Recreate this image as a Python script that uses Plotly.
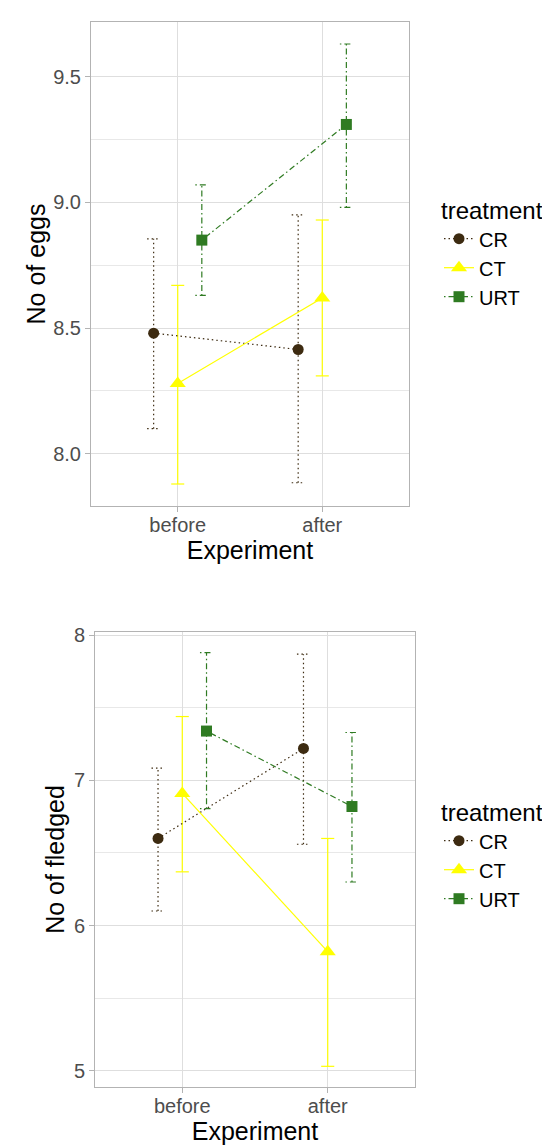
import plotly.graph_objects as go

# ---------------- data ----------------
experiment = ["before", "after"]
treatments = ["CR", "CT", "URT"]

eggs_mean = {"CR": [8.48, 8.415], "CT": [8.28, 8.62], "URT": [8.85, 9.31]}
eggs_low = {"CR": [8.10, 7.885], "CT": [7.88, 8.31], "URT": [8.63, 8.98]}
eggs_high = {"CR": [8.855, 8.95], "CT": [8.67, 8.93], "URT": [9.07, 9.63]}

fled_mean = {"CR": [6.60, 7.22], "CT": [6.91, 5.82], "URT": [7.34, 6.82]}
fled_low = {"CR": [6.10, 6.56], "CT": [6.37, 5.03], "URT": [6.805, 6.30]}
fled_high = {"CR": [7.085, 7.87], "CT": [7.44, 6.60], "URT": [7.88, 7.33]}

eggs_ticks = [8.0, 8.5, 9.0, 9.5]
fled_ticks = [5, 6, 7, 8]

# ---------------- style ----------------
colors = {"CR": "#3d2b11", "CT": "#ffff00", "URT": "#2f7b22"}
symbols = {"CR": "circle", "CT": "triangle-up", "URT": "square"}
msizes = {"CR": 11, "CT": 14, "URT": 11}
dashes = {"CR": "1.5px,3px", "CT": "solid", "URT": "1.5px,3px,6px,3px"}
dodge_width = 0.5
cap = 0.09
FONT = "Arial, Liberation Sans, sans-serif"

n = len(treatments)
offsets = {t: (i - (n - 1) / 2) * dodge_width / n for i, t in enumerate(treatments)}

fig = go.Figure()


def add_panel(mean, low, high, xa, ya, legend):
    # error bars
    for t in treatments:
        xs, ys = [], []
        for i in range(len(experiment)):
            x = i + 1 + offsets[t]
            xs += [x, x, None, x - cap / 2, x + cap / 2, None, x - cap / 2, x + cap / 2, None]
            ys += [low[t][i], high[t][i], None, low[t][i], low[t][i], None,
                   high[t][i], high[t][i], None]
        fig.add_trace(go.Scatter(
            x=xs, y=ys, mode="lines", xaxis=xa, yaxis=ya, showlegend=False,
            hoverinfo="skip",
            line=dict(color=colors[t], width=1.2, dash=dashes[t]),
        ))
    # lines + points
    for t in treatments:
        xs = [i + 1 + offsets[t] for i in range(len(experiment))]
        fig.add_trace(go.Scatter(
            x=xs, y=mean[t], mode="lines+markers", name=t, xaxis=xa, yaxis=ya,
            legend=legend,
            line=dict(color=colors[t], width=1.2, dash=dashes[t]),
            marker=dict(color=colors[t], symbol=symbols[t], size=msizes[t],
                        line=dict(width=0)),
        ))


add_panel(eggs_mean, eggs_low, eggs_high, "x", "y", "legend")
add_panel(fled_mean, fled_low, fled_high, "x2", "y2", "legend2")


def yrange(low, high):
    lo = min(min(v) for v in low.values())
    hi = max(max(v) for v in high.values())
    span = hi - lo
    return [lo - 0.05 * span, hi + 0.05 * span]


grid_major = "#dedede"
grid_minor = "#e8e8e8"
border = "#b3b3b3"

xcommon = dict(
    range=[0.4, 2.6], tickmode="array", tickvals=[1, 2], ticktext=experiment,
    showgrid=True, gridcolor=grid_major, gridwidth=1, zeroline=False,
    showline=True, linecolor=border, linewidth=1, mirror=True,
    ticks="outside", ticklen=5, tickcolor=border, tickwidth=1,
    ticklabelstandoff=-4,
    tickfont=dict(family=FONT, size=20, color="#4d4d4d"),
    title=dict(text="Experiment", font=dict(family=FONT, size=25, color="black"), standoff=0),
    automargin=False, fixedrange=True,
)
ycommon = dict(
    showgrid=True, gridcolor=grid_major, gridwidth=1, zeroline=False,
    showline=True, linecolor=border, linewidth=1, mirror=True,
    ticks="outside", ticklen=5, tickcolor=border, tickwidth=1,
    tickfont=dict(family=FONT, size=20, color="#4d4d4d"),
    automargin=False, fixedrange=True,
)

fig.update_layout(
    width=550, height=1147,
    margin=dict(l=0, r=0, t=0, b=0),
    paper_bgcolor="white", plot_bgcolor="white",
    font=dict(family=FONT),
    xaxis=dict(domain=[83 / 550, 401 / 550], anchor="y", **xcommon),
    yaxis=dict(domain=[1 - 498 / 1147, 1 - 14 / 1147], anchor="x",
               range=yrange(eggs_low, eggs_high),
               tickmode="array", tickvals=eggs_ticks,
               ticktext=[f"{v:.1f}" for v in eggs_ticks],
               minor=dict(dtick=0.25, tick0=eggs_ticks[0], showgrid=True,
                          gridcolor=grid_minor, gridwidth=0.6, ticks=""),
               title=dict(text="No of eggs", font=dict(family=FONT, size=25, color="black"),
                          standoff=0),
               **ycommon),
    xaxis2=dict(domain=[87 / 550, 407 / 550], anchor="y2", **xcommon),
    yaxis2=dict(domain=[1 - 1079 / 1147, 1 - 624 / 1147], anchor="x2",
                range=yrange(fled_low, fled_high),
                tickmode="array", tickvals=fled_ticks,
                ticktext=[str(v) for v in fled_ticks],
                minor=dict(dtick=0.5, tick0=fled_ticks[0], showgrid=True,
                           gridcolor=grid_minor, gridwidth=0.6, ticks=""),
                title=dict(text="No of fledged", font=dict(family=FONT, size=25, color="black"),
                           standoff=2),
                **ycommon),
    legend=dict(
        x=431 / 550, xanchor="left", y=1 - 180 / 1147, yanchor="top",
        title=dict(text="treatment", font=dict(family=FONT, size=24, color="black")),
        font=dict(family=FONT, size=20, color="black"),
        bgcolor="rgba(0,0,0,0)", tracegroupgap=0,
    ),
    legend2=dict(
        x=431 / 550, xanchor="left", y=1 - 782 / 1147, yanchor="top",
        title=dict(text="treatment", font=dict(family=FONT, size=24, color="black")),
        font=dict(family=FONT, size=20, color="black"),
        bgcolor="rgba(0,0,0,0)", tracegroupgap=0,
    ),
)

fig.write_html("out.html")
